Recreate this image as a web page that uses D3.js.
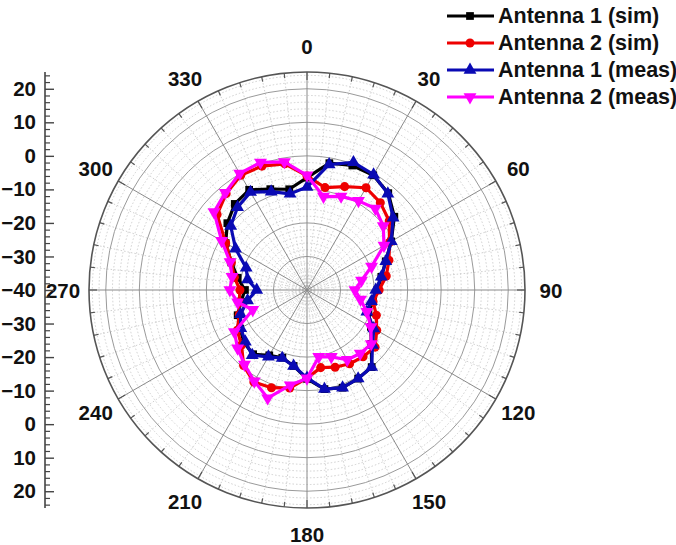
<!DOCTYPE html>
<html><head><meta charset="utf-8">
<script src="https://cdn.jsdelivr.net/npm/d3@7"></script>
<style>
body{margin:0;background:#fff;}
svg{display:block;font-family:"Liberation Sans",Arial,sans-serif;}
</style></head>
<body>
<svg id="chart" width="676" height="545"></svg>
<script>
// angles in degrees (0 = top, clockwise)
const angles = d3.range(0, 360, 10);
const seriesNames = ["Antenna 1 (sim)", "Antenna 2 (sim)", "Antenna 1 (meas)", "Antenna 2 (meas)"];
const ant1Sim  = [-6.5,-1.6,-0.5,-0.5,-2.3,-6,-11,-15,-17.5,-19,-20,-20.5,-18,-15,-10,-9.5,-9,-10,-13.5,-17,-18.5,-17.5,-15,-15.5,-17,-18,-20,-21.5,-19,-16,-12,-9,-6.5,-5.5,-8,-9.5];
const ant2Sim  = [-6,-9,-7.2,-4.8,-6,-8,-11.6,-14,-16,-18.5,-20,-18,-16,-13.5,-14,-14.6,-15.5,-16.5,-13.7,-10.3,-9,-8.3,-10.6,-14.5,-16,-18.5,-19.5,-20,-18,-16,-12,-5,-2.5,-0.5,-0.7,-1.8];
const ant1Meas = [-9.3,-2,0.5,-0.3,-2.5,-6.5,-11,-15,-17.5,-19.5,-20.5,-21,-17,-14.5,-10,-9.5,-9,-10,-13.8,-17,-18.4,-17,-14.6,-16,-17.2,-18.9,-22,-25,-22,-20.7,-15.4,-10.3,-7.8,-6.3,-8.8,-10.9];
const ant2Meas = [-5.8,-11.7,-10.3,-9.3,-8.3,-10.3,-13.5,-19.5,-23.5,-25.7,-23.8,-21,-18,-15,-15.3,-16,-18.8,-19.8,-13.7,-11.2,-5.7,-8.6,-11,-13,-15,-22.8,-19,-17,-17.3,-15.6,-10.6,-3.8,-2.1,0.1,0.5,-1.2];
const radialTicks = [-30,-20,-10,0,10,20];
const angleLabels = [0,30,60,90,120,150,180,210,240,270,300,330];
const axisTopTicks = [20,10,0,-10,-20,-30,-40];
const axisBottomTicks = [-30,-20,-10,0,10,20];
const rMin = -40, rMax = 25;

const svg = d3.select("#chart");
const cx = 307, cy = 290, R = 218;
const r = d3.scaleLinear().domain([rMin, rMax]).range([0, R]);
const a = d3.scaleLinear().domain([0, 360]).range([0, 2*Math.PI]);

const g = svg.append("g").attr("transform", `translate(${cx},${cy})`);

// minor dotted circles
g.append("g").selectAll("circle").data(d3.range(-38, 25, 2).filter(v => v % 10 !== 0))
  .join("circle").attr("r", d => r(d)).attr("fill","none")
  .attr("stroke","#c4c4c4").attr("stroke-width",0.8).attr("stroke-dasharray","1.5,2");
// minor dotted radial lines
g.append("g").selectAll("line").data(d3.range(0, 360, 6).filter(v => v % 30 !== 0))
  .join("line")
  .attr("x1",0).attr("y1",0)
  .attr("x2", d => R*Math.sin(a(d))).attr("y2", d => -R*Math.cos(a(d)))
  .attr("stroke","#c4c4c4").attr("stroke-width",0.8).attr("stroke-dasharray","1.5,2");
// major circles
g.append("g").selectAll("circle").data(radialTicks)
  .join("circle").attr("r", d => r(d)).attr("fill","none")
  .attr("stroke","#9a9a9a").attr("stroke-width",1);
// major radial lines
g.append("g").selectAll("line").data(d3.range(0, 360, 30))
  .join("line")
  .attr("x1",0).attr("y1",0)
  .attr("x2", d => R*Math.sin(a(d))).attr("y2", d => -R*Math.cos(a(d)))
  .attr("stroke","#8a8a8a").attr("stroke-width",1);
// outer circle
g.append("circle").attr("r", R).attr("fill","none").attr("stroke","#555").attr("stroke-width",1.6);
// outer ticks
g.append("g").selectAll("line").data(d3.range(0, 360, 6))
  .join("line")
  .attr("x1", d => R*Math.sin(a(d))).attr("y1", d => -R*Math.cos(a(d)))
  .attr("x2", d => (R-(d%30===0?8:5))*Math.sin(a(d))).attr("y2", d => -(R-(d%30===0?8:5))*Math.cos(a(d)))
  .attr("stroke","#555").attr("stroke-width",1.2);

// angle labels
g.append("g").selectAll("text").data(angleLabels)
  .join("text")
  .attr("x", d => 244*Math.sin(a(d)))
  .attr("y", d => -244*Math.cos(a(d)))
  .attr("text-anchor","middle").attr("dominant-baseline","central")
  .attr("font-size",20.5).attr("font-weight","bold").attr("fill","#111")
  .text(d => d);

// data series
const series = [
  {name: seriesNames[0], values: ant1Sim,  color: "#000000", sym: d3.symbolSquare,   size: 60, rot: 0},
  {name: seriesNames[1], values: ant2Sim,  color: "#ee0000", sym: d3.symbolCircle,   size: 64, rot: 0},
  {name: seriesNames[2], values: ant1Meas, color: "#0a0ab4", sym: d3.symbolTriangle, size: 72, rot: 0},
  {name: seriesNames[3], values: ant2Meas, color: "#ff00ff", sym: d3.symbolTriangle, size: 72, rot: 180}
];
const line = d3.lineRadial().angle(d => a(d[0])).radius(d => r(d[1])).curve(d3.curveLinearClosed);
series.forEach(s => {
  const pts = angles.map((ang, i) => [ang, s.values[i]]);
  const sg = g.append("g");
  sg.append("path").attr("d", line(pts)).attr("fill","none")
    .attr("stroke", s.color).attr("stroke-width", 3.2).attr("stroke-linejoin","round");
  sg.selectAll("path.m").data(pts).join("path").attr("class","m")
    .attr("d", d3.symbol().type(s.sym).size(s.size))
    .attr("transform", d => {
      const x = r(d[1])*Math.sin(a(d[0])), y = -r(d[1])*Math.cos(a(d[0]));
      return `translate(${x},${y}) rotate(${s.rot})`;
    })
    .attr("fill", s.color);
});

// left radial axis (mirrored)
const ax = 45;
const yTop = d3.scaleLinear().domain([rMin, rMax]).range([cy, cy - R]);
const yBot = d3.scaleLinear().domain([rMin, rMax]).range([cy, cy + R]);
svg.append("line").attr("x1",ax).attr("x2",ax).attr("y1",cy-R).attr("y2",cy+R)
  .attr("stroke","#444").attr("stroke-width",1.6);
const minorVals = d3.range(-38, 25, 2).filter(v => v % 10 !== 0);
function drawAxis(scale, majors) {
  const maj = svg.append("g").attr("transform",`translate(${ax},0)`)
    .call(d3.axisLeft(scale).tickValues(majors).tickSizeInner(-9).tickSizeOuter(0).tickPadding(9).tickFormat(d3.format("d")));
  maj.select(".domain").remove();
  maj.selectAll(".tick line").attr("stroke","#444").attr("stroke-width",1.4);
  maj.selectAll(".tick text").attr("font-size",20.5).attr("font-weight","bold").attr("fill","#111")
    .attr("font-family","'Liberation Sans',Arial,sans-serif");
  const mn = svg.append("g").attr("transform",`translate(${ax},0)`)
    .call(d3.axisLeft(scale).tickValues(minorVals).tickSizeInner(-5).tickSizeOuter(0).tickFormat(""));
  mn.select(".domain").remove();
  mn.selectAll(".tick line").attr("stroke","#444").attr("stroke-width",1.2);
}
drawAxis(yTop, axisTopTicks);
drawAxis(yBot, axisBottomTicks);

// legend
const lg = svg.append("g");
series.forEach((s, i) => {
  const y = 16 + i*27;
  lg.append("line").attr("x1",447).attr("x2",494).attr("y1",y).attr("y2",y)
    .attr("stroke", s.color).attr("stroke-width",3);
  lg.append("path").attr("d", d3.symbol().type(s.sym).size(s.size))
    .attr("transform",`translate(470,${y}) rotate(${s.rot})`).attr("fill", s.color);
  lg.append("text").attr("x",498).attr("y",y).attr("dominant-baseline","central")
    .attr("font-size",21.5).attr("font-weight","bold").attr("fill","#111").text(s.name);
});
</script>
</body></html>
